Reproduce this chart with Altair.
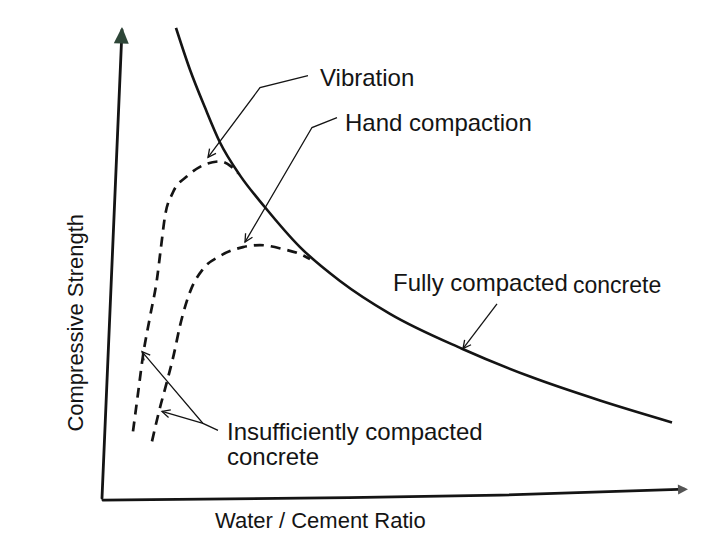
import altair as alt
import pandas as pd
import numpy as np

# ---- curve data (x: water/cement ratio units, y: strength units) ----
full_x = [176, 190, 205, 220, 240, 265, 300, 340, 390, 462, 530, 600, 672]
full_y = [28, 70, 108, 143, 176, 208, 248, 282, 315, 350, 378, 402, 424]

vib_x = [133, 138, 143, 150, 157, 161, 165, 173, 187, 205, 220, 231, 238]
vib_y = [433, 395, 357, 318, 280, 248, 217, 193, 177, 165, 162, 167, 174]

hand_x = [152, 159, 167, 174, 180, 190, 203, 220, 243, 260, 283, 300, 310]
hand_y = [443, 413, 383, 355, 327, 293, 270, 257, 248, 246, 250, 255, 260]

# ---- axis lines ----
yaxis_x = [102, 122]
yaxis_y = [500, 30]
xaxis_x = [103, 300, 500, 684]
xaxis_y = [502, 500, 497, 491]

# ---- annotation leaders (polylines; last point is the arrow tip) ----
leaders = {
    "vib": ([308, 260, 208], [76, 88, 158]),
    "hand": ([337, 312, 245], [118, 128, 243]),
    "full": ([497, 463], [305, 350]),
    "ins1": ([218, 203, 142], [432, 425, 353]),
    "ins2": ([203, 162], [425, 413]),
}

# ---- labels ----
label_text = ["Vibration", "Hand compaction", "Fully compacted", "concrete",
              "Insufficiently compacted", "concrete"]
label_x = [320, 345, 393, 573, 227, 227]
label_y = [86, 131, 292, 294, 442, 467]
label_fs = [24, 24, 24, 23, 24, 24]

ylab_text = ["Compressive Strength"]
ylab_x = [83]
ylab_y = [324]

xlab_text = ["Water / Cement Ratio"]
xlab_x = [215]
xlab_y = [530]

INK = "#141414"

def line_df(xs, ys, grp):
    return pd.DataFrame({"x": xs, "y": ys, "g": grp, "o": list(range(len(xs)))})

curve_df = line_df(full_x, full_y, "full")
axes_df = pd.concat([
    line_df(yaxis_x, yaxis_y, "yaxis"),
    line_df(xaxis_x, xaxis_y, "xaxis"),
])
dash_df = pd.concat([line_df(vib_x, vib_y, "vib"), line_df(hand_x, hand_y, "hand")])
lead_df = pd.concat([line_df(v[0], v[1], k) for k, v in leaders.items()])

# arrow heads for leaders
heads = []
for k, (xs, ys) in leaders.items():
    ang = np.degrees(np.arctan2(ys[-1] - ys[-2], xs[-1] - xs[-2])) % 360
    heads.append({"x": xs[-1], "y": ys[-1], "a": float(ang)})
heads_df = pd.DataFrame(heads)

# axis arrow heads
ay = float(np.degrees(np.arctan2(yaxis_y[-1] - yaxis_y[0], yaxis_x[-1] - yaxis_x[0])) % 360)
ax_ = float(np.degrees(np.arctan2(xaxis_y[-1] - xaxis_y[-2], xaxis_x[-1] - xaxis_x[-2])) % 360)
yhead_df = pd.DataFrame({"x": [122], "y": [27], "a": [ay]})
xhead_df = pd.DataFrame({"x": [688], "y": [491], "a": [ax_]})

labels_df = pd.DataFrame({"t": label_text, "x": label_x, "y": label_y, "fs": label_fs})
ylab_df = pd.DataFrame({"t": ylab_text, "x": ylab_x, "y": ylab_y})
xlab_df = pd.DataFrame({"t": xlab_text, "x": xlab_x, "y": xlab_y})

xs = alt.Scale(domain=[8, 712], nice=False, zero=False)
ys = alt.Scale(domain=[8, 532], nice=False, zero=False, reverse=True)
X = alt.X("x:Q", scale=xs, axis=None)
Y = alt.Y("y:Q", scale=ys, axis=None)

curve = alt.Chart(curve_df).mark_line(color=INK, strokeWidth=2.6, interpolate="monotone").encode(
    x=X, y=Y, detail="g:N", order="o:Q")
axes = alt.Chart(axes_df).mark_line(color=INK, strokeWidth=2.8, strokeCap="round",
                                    interpolate="monotone").encode(
    x=X, y=Y, detail="g:N", order="o:Q")
dashed = alt.Chart(dash_df).mark_line(color=INK, strokeWidth=2.7, strokeDash=[10, 7],
                                      interpolate="monotone").encode(
    x=X, y=Y, detail="g:N", order="o:Q")
lead = alt.Chart(lead_df).mark_line(color=INK, strokeWidth=1.3).encode(
    x=X, y=Y, detail="g:N", order="o:Q")
head = alt.Chart(heads_df).mark_point(
    shape="M-1,-0.5L0,0L-1,0.5", filled=False, color=INK, strokeWidth=1.3, size=256, opacity=1
).encode(x=X, y=Y, angle=alt.Angle("a:Q", scale=None))
yhead = alt.Chart(yhead_df).mark_point(
    shape="M0,0L-1,-0.45L-1,0.45Z", filled=True, color="#2e4638", size=1100, opacity=1
).encode(x=X, y=Y, angle=alt.Angle("a:Q", scale=None))
xhead = alt.Chart(xhead_df).mark_point(
    shape="M0,0L-1,-0.5L-1,0.5Z", filled=True, color="#555555", size=400, opacity=1
).encode(x=X, y=Y, angle=alt.Angle("a:Q", scale=None))

labels = alt.Chart(labels_df).mark_text(
    align="left", baseline="alphabetic", font="Liberation Sans", color=INK
).encode(x=X, y=Y, text="t:N", size=alt.Size("fs:Q", scale=None))
ylab = alt.Chart(ylab_df).mark_text(
    align="center", baseline="alphabetic", font="Liberation Sans", color=INK, fontSize=22, angle=270
).encode(x=X, y=Y, text="t:N")
xlab = alt.Chart(xlab_df).mark_text(
    align="left", baseline="alphabetic", font="Liberation Sans", color=INK, fontSize=22
).encode(x=X, y=Y, text="t:N")

chart = alt.layer(curve, axes, dashed, lead, head, yhead, xhead, labels, ylab, xlab).properties(
    width=704, height=524,
    autosize=alt.AutoSizeParams(type="fit", contains="padding"),
    padding=0, background="white",
).configure_view(stroke=None)

chart.save("out.html", embed_options={"renderer": "svg", "actions": False})
